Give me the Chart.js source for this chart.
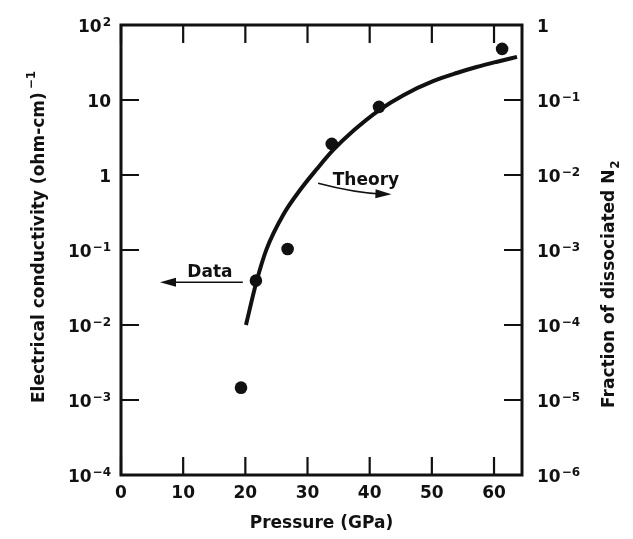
<!DOCTYPE html>
<html>
<head>
<meta charset="utf-8">
<script src="https://cdn.jsdelivr.net/npm/chart.js@4/dist/chart.umd.min.js"></script>
<style>
  html, body { margin: 0; padding: 0; background: #fff; }
  #wrap { width: 633px; height: 539px; }
</style>
</head>
<body>
<div id="wrap"><canvas id="chart" width="633" height="539"></canvas></div>
<script>
// measured points, conductivity (ohm-cm)^-1 vs pressure (GPa)
const dataPressure = [19.3, 21.7, 26.8, 33.9, 41.5, 61.3];
const dataSigma = [0.00146, 0.039, 0.103, 2.6, 8.1, 48];

// theory curve
const theoryPressure = [20.1, 21.8, 23.4, 26.1, 28.8, 31.5, 34.1, 37.5, 41.6, 45.5, 50.2, 54, 57.2, 60.5, 63.7];
const theorySigma = [0.01, 0.038, 0.102, 0.295, 0.63, 1.2, 2.14, 3.98, 7.41, 11.7, 17.8, 22.9, 27.5, 32.4, 37.6];

// axes
const xTicks = [0, 10, 20, 30, 40, 50, 60];
const leftTicks = [100, 10, 1, 0.1, 0.01, 0.001, 0.0001];
const leftTickLabels = [['10', '2'], ['10', ''], ['1', ''], ['10', '−1'], ['10', '−2'], ['10', '−3'], ['10', '−4']];
const rightTicks = [1, 0.1, 0.01, 0.001, 1e-4, 1e-5, 1e-6];
const rightTickLabels = [['1', ''], ['10', '−1'], ['10', '−2'], ['10', '−3'], ['10', '−4'], ['10', '−5'], ['10', '−6']];

// annotations (data units)
const notes = [
  { text: 'Data', x: 14.3, y: 0.0437 },
  { text: 'Theory', x: 39.4, y: 0.736 }
];
const dataArrow = { from: [19.6, 0.0371], to: [6.27, 0.0371] };
const theoryArrow = { from: [31.7, 0.774], via: [37.6, 0.575], to: [43.5, 0.553] };

const FONT = '"DejaVu Sans", sans-serif';
const INK = '#111';

function drawPower(ctx, base, exp, x, y, align) {
  ctx.font = 'bold 17px ' + FONT;
  const wb = ctx.measureText(base).width;
  ctx.font = 'bold 12px ' + FONT;
  const we = exp ? ctx.measureText(exp).width + 1 : 0;
  const left = align === 'right' ? x - wb - we : x;
  ctx.textAlign = 'left';
  ctx.textBaseline = 'alphabetic';
  ctx.font = 'bold 17px ' + FONT;
  ctx.fillText(base, left, y + 7);
  if (exp) {
    ctx.font = 'bold 12px ' + FONT;
    ctx.fillText(exp, left + wb + 1, y + 1);
  }
}

function arrowHead(ctx, tipX, tipY, angle) {
  const len = 16, half = 4.5;
  ctx.save();
  ctx.translate(tipX, tipY);
  ctx.rotate(angle);
  ctx.beginPath();
  ctx.moveTo(0, 0);
  ctx.lineTo(-len, -half);
  ctx.lineTo(-len, half);
  ctx.closePath();
  ctx.fill();
  ctx.restore();
}

const framePlugin = {
  id: 'frame',
  afterDraw(chart) {
    const ctx = chart.ctx;
    const a = chart.chartArea;
    const sx = chart.scales.x, sy = chart.scales.y, sy2 = chart.scales.y2;
    const tick = 18;
    ctx.save();
    ctx.strokeStyle = INK;
    ctx.fillStyle = INK;

    // frame
    ctx.lineWidth = 3;
    ctx.strokeRect(a.left, a.top, a.right - a.left, a.bottom - a.top);

    // inward ticks
    ctx.lineWidth = 2.2;
    ctx.beginPath();
    xTicks.forEach(v => {
      const px = sx.getPixelForValue(v);
      ctx.moveTo(px, a.bottom); ctx.lineTo(px, a.bottom - tick);
      ctx.moveTo(px, a.top); ctx.lineTo(px, a.top + tick);
    });
    leftTicks.forEach(v => {
      const py = sy.getPixelForValue(v);
      ctx.moveTo(a.left, py); ctx.lineTo(a.left + tick, py);
    });
    rightTicks.forEach(v => {
      const py = sy2.getPixelForValue(v);
      ctx.moveTo(a.right, py); ctx.lineTo(a.right - tick, py);
    });
    ctx.stroke();

    // tick labels
    ctx.font = 'bold 17px ' + FONT;
    ctx.textAlign = 'center';
    ctx.textBaseline = 'alphabetic';
    xTicks.forEach(v => {
      ctx.fillText(String(v), sx.getPixelForValue(v), a.bottom + 23);
    });
    leftTicks.forEach((v, i) => {
      drawPower(ctx, leftTickLabels[i][0], leftTickLabels[i][1], a.left - 10, sy.getPixelForValue(v), 'right');
    });
    rightTicks.forEach((v, i) => {
      drawPower(ctx, rightTickLabels[i][0], rightTickLabels[i][1], a.right + 15, sy2.getPixelForValue(v), 'left');
    });

    // axis titles
    ctx.font = 'bold 17px ' + FONT;
    ctx.textAlign = 'center';
    ctx.fillText('Pressure (GPa)', (a.left + a.right) / 2, a.bottom + 53);

    ctx.save();
    ctx.translate(44, 403);
    ctx.rotate(-Math.PI / 2);
    ctx.textAlign = 'left';
    const leftTitle = 'Electrical conductivity (ohm-cm)';
    ctx.fillText(leftTitle, 0, 0);
    const lw = ctx.measureText(leftTitle).width;
    ctx.font = 'bold 12px ' + FONT;
    ctx.fillText('−1', lw + 3, -9);
    ctx.restore();

    ctx.save();
    ctx.translate(614, 408);
    ctx.rotate(-Math.PI / 2);
    ctx.textAlign = 'left';
    ctx.font = 'bold 17px ' + FONT;
    const rightTitle = 'Fraction of dissociated N';
    ctx.fillText(rightTitle, 0, 0);
    const rw = ctx.measureText(rightTitle).width;
    ctx.font = 'bold 12px ' + FONT;
    ctx.fillText('2', rw + 1, 5);
    ctx.restore();

    // annotations
    ctx.font = 'bold 17px ' + FONT;
    ctx.textAlign = 'center';
    notes.forEach(n => {
      ctx.fillText(n.text, sx.getPixelForValue(n.x), sy.getPixelForValue(n.y));
    });

    ctx.lineWidth = 1.6;
    const dfx = sx.getPixelForValue(dataArrow.from[0]), dfy = sy.getPixelForValue(dataArrow.from[1]);
    const dtx = sx.getPixelForValue(dataArrow.to[0]), dty = sy.getPixelForValue(dataArrow.to[1]);
    ctx.beginPath();
    ctx.moveTo(dfx, dfy);
    ctx.lineTo(dtx + 10, dty);
    ctx.stroke();
    arrowHead(ctx, dtx, dty, Math.atan2(dty - dfy, dtx - dfx));

    const tfx = sx.getPixelForValue(theoryArrow.from[0]), tfy = sy.getPixelForValue(theoryArrow.from[1]);
    const tcx = sx.getPixelForValue(theoryArrow.via[0]), tcy = sy.getPixelForValue(theoryArrow.via[1]);
    const ttx = sx.getPixelForValue(theoryArrow.to[0]), tty = sy.getPixelForValue(theoryArrow.to[1]);
    ctx.beginPath();
    ctx.moveTo(tfx, tfy);
    ctx.quadraticCurveTo(tcx, tcy, ttx - 8, tty);
    ctx.stroke();
    arrowHead(ctx, ttx, tty, Math.atan2(tty - tcy, ttx - tcx));

    ctx.restore();
  }
};

new Chart(document.getElementById('chart'), {
  type: 'scatter',
  data: {
    datasets: [
      {
        label: 'Data',
        data: dataPressure.map((p, i) => ({ x: p, y: dataSigma[i] })),
        pointRadius: 6.3,
        pointBackgroundColor: INK,
        pointBorderWidth: 0,
        showLine: false,
        clip: false
      },
      {
        label: 'Theory',
        data: theoryPressure.map((p, i) => ({ x: p, y: theorySigma[i] })),
        showLine: true,
        pointRadius: 0,
        borderColor: INK,
        borderWidth: 4,
        cubicInterpolationMode: 'monotone',
        clip: false
      }
    ]
  },
  options: {
    responsive: false,
    animation: false,
    devicePixelRatio: 1,
    layout: { padding: { left: 121, right: 111, top: 25, bottom: 64 } },
    plugins: {
      legend: { display: false },
      tooltip: { enabled: false }
    },
    scales: {
      x: { type: 'linear', min: 0, max: 64.5, display: false },
      y: { type: 'logarithmic', min: 0.0001, max: 100, display: false },
      y2: { type: 'logarithmic', position: 'right', min: 0.000001, max: 1, display: false }
    }
  },
  plugins: [framePlugin]
});
</script>
</body>
</html>
